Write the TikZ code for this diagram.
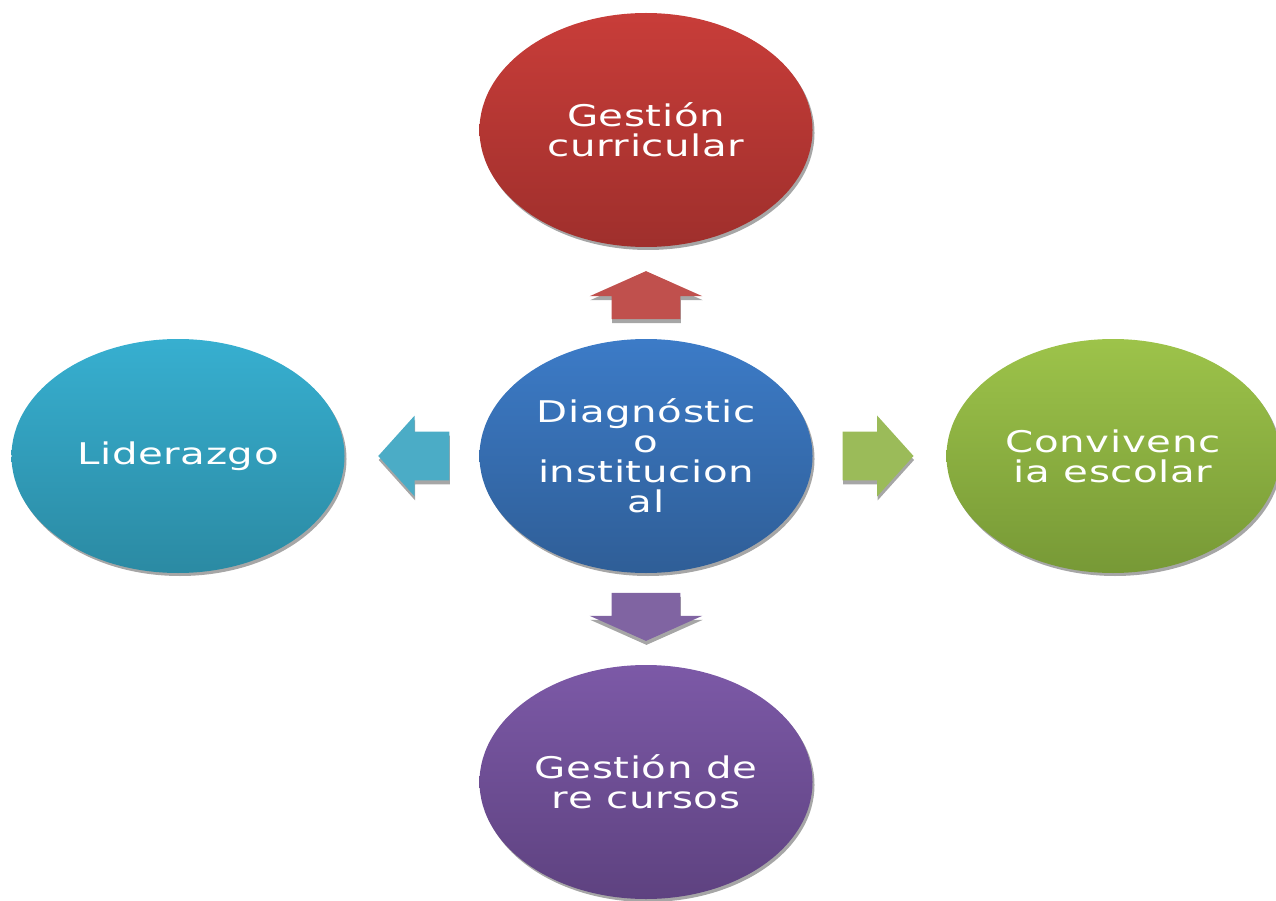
\documentclass[tikz,border=0pt]{standalone}
\usepackage{fontspec}
\setmainfont{DejaVu Sans}[FakeStretch=1.35,LetterSpace=2]
\usetikzlibrary{shapes.geometric,shapes.arrows,shadows,calc}

% colours of the areas (top / bottom of the shading)
\definecolor{redTop}{HTML}{C83D39}
\definecolor{redBot}{HTML}{9F2F2C}
\definecolor{blueTop}{HTML}{3C7BC7}
\definecolor{blueBot}{HTML}{2F5E97}
\definecolor{cyanTop}{HTML}{37AFD0}
\definecolor{cyanBot}{HTML}{2B8AA3}
\definecolor{greenTop}{HTML}{9DC34A}
\definecolor{greenBot}{HTML}{779936}
\definecolor{purpTop}{HTML}{7C59A7}
\definecolor{purpBot}{HTML}{5E4280}
% colours of the block arrows
\definecolor{arrRed}{HTML}{C0504D}
\definecolor{arrCyan}{HTML}{4BACC6}
\definecolor{arrGreen}{HTML}{9BBB59}
\definecolor{arrPurp}{HTML}{8064A2}
\definecolor{shade}{HTML}{A6A6A6}

\tikzset{
  area/.style={ellipse, minimum width=6.66cm, minimum height=4.68cm,
    inner sep=0pt, align=center, text=white,
    font=\fontsize{17}{17}\selectfont,
    drop shadow={shadow xshift=0.04cm, shadow yshift=-0.06cm, fill=shade, opacity=1}},
  vertarrow/.style={single arrow, inner xsep=0pt, inner ysep=0.68cm,
    single arrow head extend=0.44cm, single arrow tip angle=132,
    minimum height=0.96cm, draw=none, anchor=tail,
    drop shadow={shadow xshift=0.01cm, shadow yshift=-0.08cm, fill=shade, opacity=1}},
  horzarrow/.style={single arrow, inner xsep=0pt, inner ysep=0.48cm,
    single arrow head extend=0.32cm, single arrow tip angle=96,
    minimum height=1.42cm, draw=none, anchor=tail,
    drop shadow={shadow xshift=0.01cm, shadow yshift=-0.08cm, fill=shade, opacity=1}},
}

\begin{document}
\begin{tikzpicture}
  \useasboundingbox (0,0) rectangle (25.52,18);

  % The five areas:
  % the centre one and the four around it
  \node [area, top color=blueTop, bottom color=blueBot] (diag) at (12.92,8.88)
        {Diagnóstic\\o\\institucion\\al};
  \node [area, top color=redTop, bottom color=redBot] (curr) at (12.92,15.4)
        {Gestión\\curricular};
  \node [area, top color=cyanTop, bottom color=cyanBot] (lider) at (3.56,8.88)
        {Liderazgo};
  \node [area, top color=greenTop, bottom color=greenBot] (conv) at (22.26,8.88)
        {Convivenc\\ia escolar};
  \node [area, top color=purpTop, bottom color=purpBot] (recur) at (12.92,2.36)
        {Gestión de\\re cursos};

  % Block arrows:
  % the tail of each one sits a bit away from the centre area
  \node [vertarrow, fill=arrRed, rotate=90] (toCurr)
        at ($(diag.north)!0.21!(curr.south)$) {};
  \node [vertarrow, fill=arrPurp, rotate=-90] (toRecur)
        at ($(diag.south)!0.21!(recur.north)$) {};
  \node [horzarrow, fill=arrCyan, rotate=180] (toLider)
        at ($(diag.west)!0.22!(lider.east)$) {};
  \node [horzarrow, fill=arrGreen] (toConv)
        at ($(diag.east)!0.22!(conv.west)$) {};
\end{tikzpicture}
\end{document}
